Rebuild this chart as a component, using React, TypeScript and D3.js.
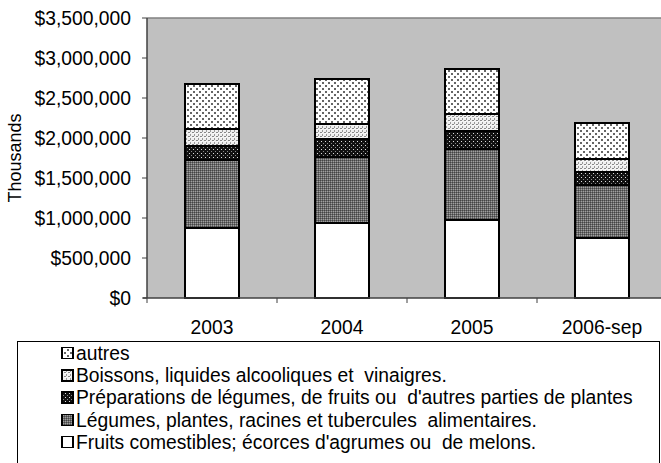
import React from 'react';
import * as d3 from 'd3';

// values in thousands of dollars
const years = ['2003', '2004', '2005', '2006-sep'];
const fruits = [870000, 940000, 970000, 755000];
const legumes = [855000, 825000, 890000, 660000];
const preparations = [175000, 217000, 230000, 162000];
const boissons = [212000, 192000, 215000, 163000];
const autres = [560000, 562000, 555000, 450000];

const yTicks = [0, 500000, 1000000, 1500000, 2000000, 2500000, 3000000, 3500000];

const seriesKeys = ['fruits', 'legumes', 'preparations', 'boissons', 'autres'];
const seriesLabels: Record<string, string> = {
  fruits: "Fruits comestibles; écorces d'agrumes ou  de melons.",
  legumes: 'Légumes, plantes, racines et tubercules  alimentaires.',
  preparations: "Préparations de légumes, de fruits ou  d'autres parties de plantes",
  boissons: 'Boissons, liquides alcooliques et  vinaigres.',
  autres: 'autres',
};
const fills: Record<string, string> = {
  fruits: '#ffffff',
  legumes: 'url(#pLeg)',
  preparations: 'url(#pPrep)',
  boissons: 'url(#pBoi)',
  autres: 'url(#pAut)',
};

const W = 661;
const H = 463;
const margin = { left: 147, top: 18, right: -6, bottom: 165 };
const font = "'Liberation Sans', Arial, sans-serif";
const fs = 19.3;

const App = () => {
  const table = years.map((y, i) => ({
    year: y,
    fruits: fruits[i],
    legumes: legumes[i],
    preparations: preparations[i],
    boissons: boissons[i],
    autres: autres[i],
  }));
  const stacked = d3.stack<any>().keys(seriesKeys)(table);

  const x = d3.scaleBand().domain(years)
    .range([margin.left, W - margin.right])
    .paddingInner(0.59).paddingOuter(0.295);
  const y = d3.scaleLinear().domain([0, 3500000]).range([H - margin.bottom, margin.top]);
  const fmt = (v: number) => '$' + d3.format(',')(v);
  const step = x.step();
  const x0 = margin.left;
  const yb = y(0);

  const legendOrder = [...seriesKeys].reverse();

  return (
    <svg width={W} height={H} style={{ position: 'absolute', left: 0, top: 0, display: 'block' }}>
      <defs>
        <pattern id="pAut" width="6" height="6" patternUnits="userSpaceOnUse">
          <rect width="6" height="6" fill="#fff" />
          <rect x="1" y="1" width="2" height="2" fill="#666" />
          <rect x="4" y="4" width="2" height="2" fill="#666" />
        </pattern>
        <pattern id="pBoi" width="4" height="4" patternUnits="userSpaceOnUse">
          <rect width="4" height="4" fill="#f0f0f0" />
          <rect x="0" y="0" width="2" height="1" fill="#888" />
          <rect x="2" y="2" width="1" height="2" fill="#999" />
          <rect x="1" y="1" width="1" height="1" fill="#fff" />
        </pattern>
        <pattern id="pPrep" width="4" height="4" patternUnits="userSpaceOnUse">
          <rect width="4" height="4" fill="#111" />
          <rect x="1" y="1" width="1" height="1" fill="#ddd" />
          <rect x="3" y="3" width="1" height="1" fill="#888" />
        </pattern>
        <pattern id="pLeg" width="2" height="2" patternUnits="userSpaceOnUse">
          <rect width="2" height="2" fill="#6a6a6a" />
          <rect x="0" y="0" width="1" height="1" fill="#444" />
          <rect x="1" y="1" width="1" height="1" fill="#a0a0a0" />
        </pattern>
      </defs>

      {/* plot area */}
      <rect x={margin.left} y={margin.top} width={W - margin.left + 10} height={yb - margin.top} fill="#c0c0c0" />
      <line x1={margin.left} x2={W} y1={margin.top} y2={margin.top} stroke="#808080" strokeWidth={1.5} />

      {/* bars */}
      {stacked.map(s => (
        <g key={s.key}>
          {s.map((d, i) => (
            <rect key={i}
              x={x(years[i])} width={x.bandwidth()}
              y={y(d[1])} height={y(d[0]) - y(d[1])}
              fill={fills[s.key]} stroke="#000" strokeWidth={2} shapeRendering="crispEdges" />
          ))}
        </g>
      ))}

      {/* y axis */}
      <line x1={margin.left} x2={margin.left} y1={margin.top} y2={yb} stroke="#404040" strokeWidth={1.5} />
      {yTicks.map(t => (
        <g key={t}>
          <line x1={margin.left - 5} x2={margin.left} y1={y(t)} y2={y(t)} stroke="#404040" strokeWidth={1} />
          <text x={131} y={y(t)} dy="0.35em" textAnchor="end" fontFamily={font} fontSize={fs} fill="#000">{fmt(t)}</text>
        </g>
      ))}
      <text transform={`translate(21,${(margin.top + yb) / 2}) rotate(-90)`} textAnchor="middle"
        fontFamily={font} fontSize={18} fill="#000">Thousands</text>

      {/* x axis */}
      <line x1={margin.left - 4} x2={W} y1={yb} y2={yb} stroke="#404040" strokeWidth={1.5} />
      {years.map((yr, i) => (
        <g key={yr}>
          <line x1={x0 + step * i} x2={x0 + step * i} y1={yb} y2={yb + 5} stroke="#404040" />
          <text x={(x(yr) as number) + x.bandwidth() / 2} y={334} textAnchor="middle"
            fontFamily={font} fontSize={fs} fill="#000">{yr}</text>
        </g>
      ))}

      {/* legend */}
      <rect x={17.5} y={341.5} width={642} height={130} fill="#fff" stroke="#000" strokeWidth={1} />
      {legendOrder.map((k, i) => {
        const cy = 353 + i * 22.3;
        return (
          <g key={k}>
            <rect x={62} y={cy - 5.5} width={11} height={11} fill={fills[k]} stroke="#000" strokeWidth={1.5} shapeRendering="crispEdges" />
            <text x={76} y={cy} dy="0.35em" fontFamily={font} fontSize={fs} fill="#000"
              style={{ whiteSpace: 'pre' }}>{seriesLabels[k]}</text>
          </g>
        );
      })}
    </svg>
  );
};

export default App;
